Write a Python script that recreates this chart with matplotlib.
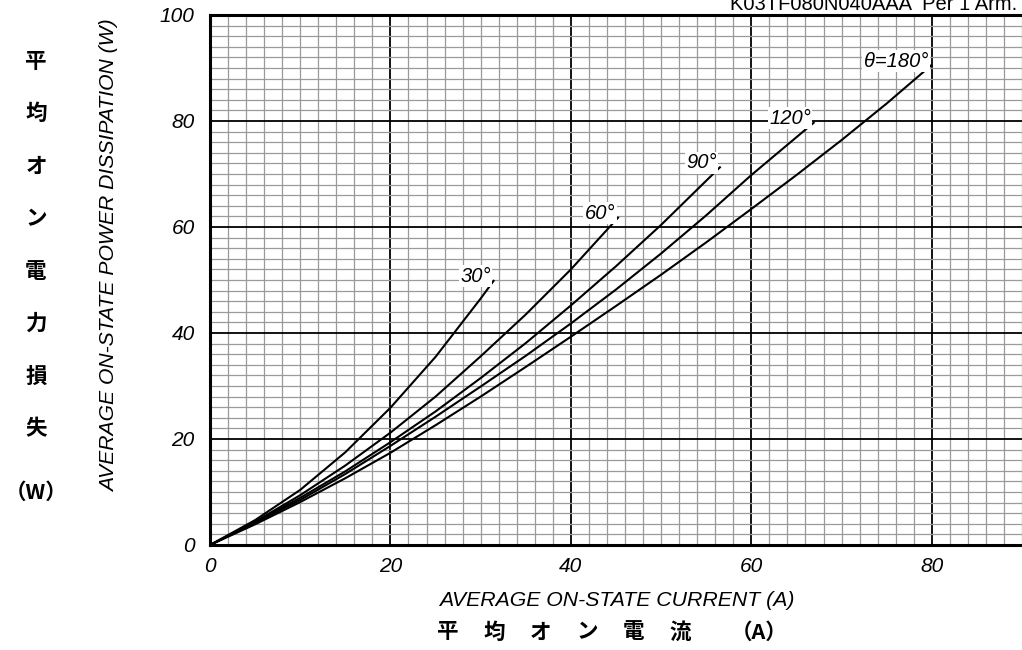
import matplotlib
matplotlib.use('Agg')
import matplotlib.pyplot as plt
from matplotlib.ticker import MultipleLocator

plt.rcParams['font.family'] = ['Liberation Sans', 'DejaVu Sans']

# average current (A) vs. average power dissipation (W)
i_30 = [0, 5, 10, 15, 20, 25, 30, 31.5]
p_30 = [0, 4.7, 10.4, 17.5, 25.9, 35.5, 46.5, 50.0]

i_60 = [0, 5, 10, 15, 20, 25, 30, 35, 40, 45.3]
p_60 = [0, 4.4, 9.4, 15.0, 21.2, 28.0, 35.6, 43.5, 52.0, 61.9]

i_90 = [0, 5, 10, 15, 20, 25, 30, 35, 40, 45, 50, 56.6]
p_90 = [0, 4.3, 8.9, 13.9, 19.4, 25.2, 31.5, 38.1, 45.2, 52.6, 60.4, 71.4]

i_120 = [0, 5, 10, 15, 20, 25, 30, 35, 40, 45, 50, 55, 60, 67]
p_120 = [0, 4.2, 8.5, 13.4, 18.7, 24.2, 29.9, 35.7, 41.8, 48.2, 55.0, 62.2, 69.8, 79.8]

i_180 = [0, 5, 10, 15, 20, 25, 30, 35, 40, 45, 50, 55, 60, 65, 70, 75, 80]
p_180 = [0, 3.9, 8.1, 12.6, 17.4, 22.6, 28.0, 33.6, 39.3, 45.1, 51.0, 57.1,
         63.4, 69.8, 76.4, 83.3, 90.6]

angle_labels = ['30°', '60°', '90°', '120°', 'θ=180°']
x_ticks = [0, 20, 40, 60, 80]
y_ticks = [0, 20, 40, 60, 80, 100]

fig = plt.figure(figsize=(10.22, 6.5), dpi=100)
ax = fig.add_axes([210 / 1022, 105 / 650, 812 / 1022, 530 / 650])

ax.set_xlim(0, 90)
ax.set_ylim(0, 100)
ax.xaxis.set_major_locator(MultipleLocator(10))
ax.yaxis.set_major_locator(MultipleLocator(10))
ax.xaxis.set_minor_locator(MultipleLocator(2))
ax.yaxis.set_minor_locator(MultipleLocator(2))
ax.grid(which='minor', color='#9a9a9a', lw=0.9, zorder=0)
ax.grid(which='major', color='black', lw=1.3, zorder=1)
ax.set_axisbelow(True)

ax.set_xticks(x_ticks)
ax.set_yticks(y_ticks)
ax.set_xticklabels([str(v) for v in x_ticks], fontsize=15, style='italic')
ax.set_yticklabels([str(v) for v in y_ticks], fontsize=15, style='italic')
ax.tick_params(which='both', length=0)
ax.tick_params(axis='x', pad=9)
ax.tick_params(axis='y', pad=11)
for side in ['left', 'bottom', 'top']:
    ax.spines[side].set_linewidth(2.2)
ax.spines['right'].set_visible(False)

series = [(i_30, p_30), (i_60, p_60), (i_90, p_90), (i_120, p_120), (i_180, p_180)]
for (i, p), lab in zip(series, angle_labels):
    ax.plot(i, p, color='black', lw=1.5, zorder=3, solid_capstyle='butt')
    ax.text(i[-1] - 0.4, p[-1] + 0.7, lab, fontsize=14.5, style='italic',
            ha='right', va='center', zorder=4,
            bbox=dict(facecolor='white', edgecolor='none', pad=1.0))

ax.set_xlabel('AVERAGE ON-STATE CURRENT (A)', fontsize=15.3, style='italic')
ax.xaxis.label.set_va('center')
ax.xaxis.set_label_coords(407 / 812, -55 / 530)
ax.set_ylabel('AVERAGE ON-STATE POWER DISSIPATION (W)', fontsize=15.2,
              style='italic')
ax.yaxis.label.set_va('center')
ax.yaxis.set_label_coords(-100 / 812, 289 / 530)

fig.text(1017 / 1022, 1 - 10 / 650, 'K03TF080N040AAA  Per 1 Arm.', fontsize=14.5,
         ha='right', va='baseline')

jp = ['Noto Sans CJK JP', 'DejaVu Sans']
left_chars = ['平', '均', 'オ', 'ン', '電', '力', '損', '失']
for k, ch in enumerate(left_chars):
    fig.text(36 / 1022, 1 - (61 + k * 52.5) / 650, ch, fontsize=15.5,
             fontweight='bold', family=jp, ha='center', va='center')
fig.text(36 / 1022, 1 - 492 / 650, '（W）', fontsize=15.5, fontweight='bold',
         family=jp, ha='center', va='center')

bottom_chars = ['平', '均', 'オ', 'ン', '電', '流']
for k, ch in enumerate(bottom_chars):
    fig.text((448 + k * 46.4) / 1022, 1 - 632 / 650, ch, fontsize=15.5,
             fontweight='bold', family=jp, ha='center', va='center')
fig.text(759 / 1022, 1 - 632 / 650, '（A）', fontsize=15.5, fontweight='bold',
         family=jp, ha='center', va='center')

fig.savefig('out.png', dpi=100)
